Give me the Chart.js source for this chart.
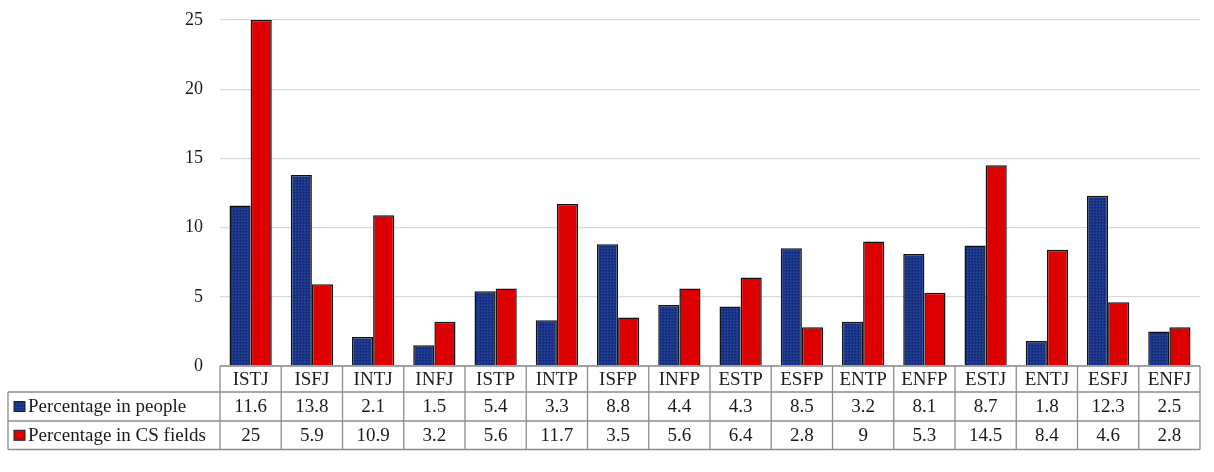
<!DOCTYPE html>
<html>
<head>
<meta charset="utf-8">
<script src="https://cdn.jsdelivr.net/npm/chart.js@4/dist/chart.umd.min.js"></script>
<style>
  html, body { margin: 0; padding: 0; background: #ffffff; }
  #wrap { width: 1214px; height: 472px; }
</style>
</head>
<body>
<div id="wrap"><canvas id="c" width="1214" height="472"></canvas></div>
<script>
const categories = ["ISTJ","ISFJ","INTJ","INFJ","ISTP","INTP","ISFP","INFP","ESTP","ESFP","ENTP","ENFP","ESTJ","ENTJ","ESFJ","ENFJ"];
const peopleValues = [11.6, 13.8, 2.1, 1.5, 5.4, 3.3, 8.8, 4.4, 4.3, 8.5, 3.2, 8.1, 8.7, 1.8, 12.3, 2.5];
const csValues = [25, 5.9, 10.9, 3.2, 5.6, 11.7, 3.5, 5.6, 6.4, 2.8, 9, 5.3, 14.5, 8.4, 4.6, 2.8];
const seriesNames = ["Percentage in people", "Percentage in CS fields"];
const yTicks = [0, 5, 10, 15, 20, 25];

const FONT = '"Liberation Serif", "Times New Roman", serif';
const BLUE = '#1b3689';
const RED = '#dd0000';

function makeDotPattern() {
  const p = document.createElement('canvas');
  p.width = 3; p.height = 3;
  const g = p.getContext('2d');
  g.fillStyle = BLUE;
  g.fillRect(0, 0, 3, 3);
  g.fillStyle = '#10245e';
  g.fillRect(0, 0, 1, 1);
  g.fillStyle = '#2a4cae';
  g.fillRect(1, 2, 1, 1);
  return document.getElementById('c').getContext('2d').createPattern(p, 'repeat');
}
const bluePattern = makeDotPattern();

const tablePlugin = {
  id: 'dataTable',
  afterDraw(chart) {
    const ctx = chart.ctx;
    const xs = chart.scales.x;
    const area = chart.chartArea;
    const n = categories.length;
    const colW = (area.right - area.left) / n;
    const top = area.bottom;
    const rowH = [26, 29, 28.5];
    const y0 = top, y1 = y0 + rowH[0], y2 = y1 + rowH[1], y3 = y2 + rowH[2];
    const leftX = 8;
    ctx.save();
    ctx.strokeStyle = '#8c8c8c';
    ctx.lineWidth = 1.3;
    ctx.beginPath();
    ctx.moveTo(area.left, y0); ctx.lineTo(area.right, y0);
    ctx.moveTo(leftX, y1); ctx.lineTo(area.right, y1);
    ctx.moveTo(leftX, y2); ctx.lineTo(area.right, y2);
    ctx.moveTo(leftX, y3); ctx.lineTo(area.right, y3);
    ctx.moveTo(leftX, y1); ctx.lineTo(leftX, y3);
    for (let i = 0; i <= n; i++) {
      const x = area.left + i * colW;
      ctx.moveTo(x, y0); ctx.lineTo(x, y3);
    }
    ctx.stroke();

    ctx.fillStyle = '#1a1a1a';
    ctx.font = '19px ' + FONT;
    ctx.textAlign = 'center';
    ctx.textBaseline = 'middle';
    const rows = [peopleValues, csValues];
    for (let i = 0; i < n; i++) {
      const cx = xs.getPixelForValue(i);
      ctx.fillText(categories[i], cx, (y0 + y1) / 2 + 1);
      ctx.fillText(String(rows[0][i]), cx, (y1 + y2) / 2 + 1);
      ctx.fillText(String(rows[1][i]), cx, (y2 + y3) / 2 + 1);
    }
    const ys = [(y1 + y2) / 2, (y2 + y3) / 2];
    const fills = [bluePattern, RED];
    ctx.textAlign = 'left';
    for (let r = 0; r < 2; r++) {
      ctx.fillStyle = fills[r];
      ctx.fillRect(14, ys[r] - 5, 11, 10);
      ctx.strokeStyle = '#222';
      ctx.lineWidth = 1;
      ctx.strokeRect(14, ys[r] - 5, 11, 10);
      ctx.fillStyle = '#1a1a1a';
      ctx.fillText(seriesNames[r], 28, ys[r] + 1);
    }
    ctx.restore();
  }
};

new Chart(document.getElementById('c'), {
  type: 'bar',
  data: {
    labels: categories,
    datasets: [
      { label: seriesNames[0], data: peopleValues, backgroundColor: bluePattern, borderColor: '#111111', borderWidth: 1.5 },
      { label: seriesNames[1], data: csValues, backgroundColor: RED, borderColor: '#111111', borderWidth: 1.5 }
    ]
  },
  options: {
    responsive: false,
    animation: false,
    layout: { padding: { top: 20, right: 14, bottom: 106, left: 0 } },
    plugins: { legend: { display: false }, tooltip: { enabled: false } },
    datasets: { bar: { categoryPercentage: 0.69, barPercentage: 1.0 } },
    scales: {
      x: { display: false },
      y: {
        min: 0, max: 25,
        afterFit(scale) { scale.width = 220; scale.paddingTop = 0; scale.paddingBottom = 0; },
        afterBuildTicks(scale) { scale.ticks = yTicks.map(v => ({ value: v })); },
        border: { display: false },
        grid: { color: '#d9d9d9', lineWidth: 1.3, drawTicks: false },
        ticks: { padding: 17, color: '#1a1a1a', font: { family: FONT, size: 18 } }
      }
    }
  },
  plugins: [tablePlugin]
});
</script>
</body>
</html>
